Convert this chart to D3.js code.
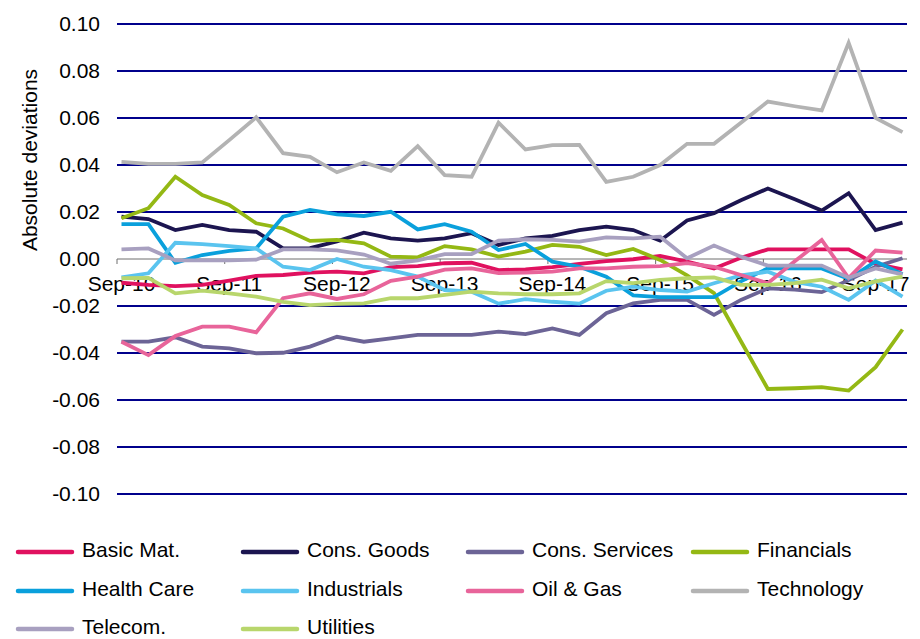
<!DOCTYPE html>
<html><head><meta charset="utf-8">
<script src="https://cdn.jsdelivr.net/npm/d3@7"></script>
<style>body{margin:0;background:#fff}svg{display:block}text{font-family:"Liberation Sans",Arial,sans-serif;fill:#000}</style>
</head><body><svg id="c" width="920" height="639"></svg>
<script>
const quarters = ["Sep-10","Dec-10","Mar-11","Jun-11","Sep-11","Dec-11","Mar-12","Jun-12","Sep-12","Dec-12","Mar-13","Jun-13","Sep-13","Dec-13","Mar-14","Jun-14","Sep-14","Dec-14","Mar-15","Jun-15","Sep-15","Dec-15","Mar-16","Jun-16","Sep-16","Dec-16","Mar-17","Jun-17","Sep-17","Dec-17"];
const xTickLabels = ["Sep-10","Sep-11","Sep-12","Sep-13","Sep-14","Sep-15","Sep-16","Sep-17"];
const yTicks = [0.10,0.08,0.06,0.04,0.02,0.00,-0.02,-0.04,-0.06,-0.08,-0.10];
const seriesNames = ["Basic Mat.","Cons. Goods","Cons. Services","Financials","Health Care","Industrials","Oil & Gas","Technology","Telecom.","Utilities"];
const basicMat = [-0.0101,-0.011,-0.0115,-0.011,-0.0092,-0.0072,-0.0068,-0.0058,-0.0054,-0.0061,-0.0035,-0.003,-0.0018,-0.0016,-0.0047,-0.0044,-0.0035,-0.0021,-0.0009,-0.0001,0.0013,-0.0011,-0.004,0.0005,0.0041,0.0041,0.0041,0.0041,-0.0021,-0.0044];
const consGoods = [0.018,0.017,0.0123,0.0145,0.0123,0.0116,0.0045,0.0046,0.0075,0.0112,0.0088,0.0078,0.0088,0.011,0.006,0.0088,0.0098,0.0123,0.0138,0.0123,0.0078,0.0164,0.0195,0.025,0.030,0.0254,0.0206,0.028,0.0123,0.0155];
const consServices = [-0.0352,-0.0352,-0.0333,-0.0373,-0.038,-0.0401,-0.0399,-0.0373,-0.0331,-0.0352,-0.0338,-0.0323,-0.0323,-0.0323,-0.0309,-0.032,-0.0295,-0.0323,-0.0231,-0.0189,-0.0174,-0.0174,-0.0238,-0.0174,-0.0125,-0.013,-0.0141,-0.009,-0.0033,0.0003];
const financials = [0.0173,0.0216,0.035,0.0272,0.023,0.0152,0.013,0.0077,0.0081,0.0067,0.001,0.0007,0.0055,0.0041,0.001,0.0031,0.006,0.0052,0.0017,0.0043,-0.0004,-0.007,-0.0145,-0.035,-0.0553,-0.055,-0.0545,-0.056,-0.046,-0.030];
const healthCare = [0.0148,0.0148,-0.0016,0.0017,0.0035,0.0045,0.018,0.0209,0.019,0.0183,0.0201,0.0126,0.0148,0.0116,0.0038,0.0064,-0.0011,-0.0033,-0.0075,-0.0155,-0.0162,-0.0162,-0.0162,-0.0095,-0.004,-0.004,-0.004,-0.0085,-0.001,-0.0065];
const industrials = [-0.0078,-0.0061,0.0069,0.0063,0.0055,0.0045,-0.0033,-0.0047,0.0,-0.0033,-0.0047,-0.0075,-0.0132,-0.0139,-0.019,-0.0171,-0.0182,-0.019,-0.0135,-0.0118,-0.0132,-0.0139,-0.0103,-0.007,-0.0054,-0.0097,-0.0118,-0.0174,-0.0092,-0.016];
const oilGas = [-0.0352,-0.0409,-0.0328,-0.0288,-0.0288,-0.0312,-0.0167,-0.0146,-0.017,-0.015,-0.0093,-0.0075,-0.0045,-0.004,-0.006,-0.0058,-0.0054,-0.004,-0.004,-0.0033,-0.003,-0.0018,-0.0033,-0.0068,-0.0103,-0.001,0.0081,-0.0081,0.0036,0.0027];
const technology = [0.0413,0.0405,0.0405,0.0411,0.0506,0.0603,0.045,0.0435,0.0369,0.0411,0.0375,0.048,0.0357,0.035,0.058,0.0466,0.0485,0.0486,0.0328,0.035,0.040,0.049,0.049,0.058,0.067,0.065,0.0632,0.092,0.060,0.054];
const telecom = [0.0041,0.0045,-0.0006,-0.0006,-0.0006,-0.0003,0.0041,0.0041,0.0037,0.0019,-0.002,-0.0006,0.0021,0.0021,0.0078,0.0084,0.0081,0.0074,0.0092,0.0088,0.0095,0.0003,0.0057,0.001,-0.0028,-0.0028,-0.0028,-0.008,-0.004,-0.0065];
const utilities = [-0.0082,-0.008,-0.0146,-0.0135,-0.0146,-0.016,-0.0182,-0.0196,-0.0191,-0.0189,-0.0167,-0.0167,-0.0153,-0.0139,-0.0146,-0.015,-0.015,-0.0146,-0.0094,-0.0103,-0.0089,-0.0082,-0.0078,-0.011,-0.011,-0.0103,-0.0088,-0.0125,-0.0095,-0.0075];
const colors = ["#e0115f","#1c1550","#6c6496","#94b814","#0aa0dc","#5ac4ef","#e8649a","#b3b3b3","#a8a0c0","#b8d66c"];

const seriesValues = [basicMat,consGoods,consServices,financials,healthCare,industrials,oilGas,technology,telecom,utilities];
const series = seriesNames.map((n,i)=>({name:n,values:seriesValues[i],color:colors[i]}));

const svg = d3.select("#c");
const L = 117, R = 907, T = 24, B = 494;
const FS = 21;
// date-style axis: months from Sep-10 through Dec-17 (88 months)
const nMonths = quarters.length*3 - 2;
const x = d3.scaleLinear().domain([0, nMonths]).range([L, R]);
const y = d3.scaleLinear().domain([-0.10, 0.10]).range([B, T]);
const xPos = i => x(i*3 + 0.5);

// gridlines
svg.append("g").selectAll("line").data(yTicks.filter(v=>Math.abs(v)>1e-9)).join("line")
  .attr("x1",L).attr("x2",R).attr("y1",d=>y(d)).attr("y2",d=>y(d))
  .attr("stroke","#00008c").attr("stroke-width",2);

// y labels
const yAxis = d3.axisLeft(y).tickValues(yTicks).tickFormat(d3.format(".2f")).tickSize(0).tickPadding(17);
const gy = svg.append("g").attr("transform",`translate(${L},0)`).call(yAxis);
gy.select(".domain").remove();
gy.selectAll("text").attr("font-size",FS).attr("font-family","Liberation Sans, Arial, sans-serif").attr("fill","#000")
  .text(d=>d3.format(".2f")(d).replace("\u2212","-"));

// y title
svg.append("text").attr("transform","translate(37,160) rotate(-90)").attr("text-anchor","middle")
  .attr("font-size",FS).text("Absolute deviations");

// x axis at zero
const xTicksMonths = xTickLabels.map((d,k)=>k*12);
const gx = svg.append("g").attr("transform",`translate(0,${y(0)})`);
gx.append("line").attr("x1",L).attr("x2",R).attr("stroke","#6e6e6e").attr("stroke-width",1);
gx.selectAll("line.tk").data(xTicksMonths).join("line").attr("class","tk")
  .attr("x1",d=>x(d)).attr("x2",d=>x(d)).attr("y1",0).attr("y2",5).attr("stroke","#6e6e6e");
gx.selectAll("text").data(xTickLabels).join("text")
  .attr("x",(d,k)=>x(k*12+0.5)).attr("y",32).attr("text-anchor","middle").attr("font-size",FS).text(d=>d);

// lines
const line = d3.line().x((d,i)=>xPos(i)).y(d=>y(d));
svg.append("g").selectAll("path").data(series).join("path")
  .attr("d",d=>line(d.values)).attr("fill","none").attr("stroke",d=>d.color)
  .attr("stroke-width",3.8).attr("stroke-linejoin","miter");

// legend
const colX = [18,243,468,693], rowY = [552,591,629];
const lg = svg.append("g").selectAll("g").data(series).join("g")
  .attr("transform",(d,i)=>`translate(${colX[i%4]},${rowY[Math.floor(i/4)]})`);
lg.append("line").attr("x1",0).attr("x2",54).attr("stroke",d=>d.color).attr("stroke-width",4.5).attr("stroke-linecap","round");
lg.append("text").attr("x",64).attr("y",5).attr("font-size",FS).text(d=>d.name);
</script></body></html>
